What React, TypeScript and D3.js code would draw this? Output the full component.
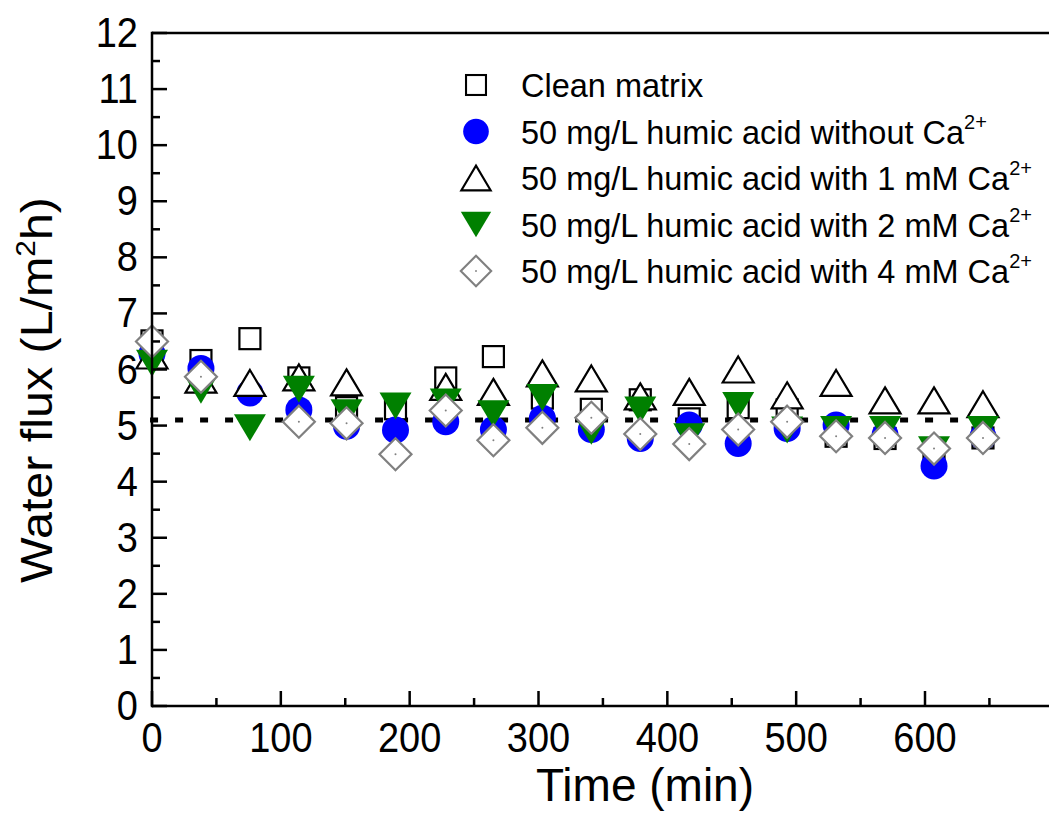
import * as d3 from "d3";
import { useEffect, useRef } from "react";

// sampling times (min)
const times = [0, 38, 76, 114, 151, 189, 228, 265, 303, 341, 379, 417, 455, 493, 531, 569, 607, 645];

// water flux (L/m2h), null = no point
const cleanMatrix = [6.51, 6.16, 6.55, 5.85, 5.32, 5.3, 5.85, 6.23, 5.49, 5.29, 5.46, 5.12, 5.32, 5.28, 4.81, 4.77, 4.48, 4.78];
const haNoCa = [6.28, 6.02, 5.58, 5.28, 4.99, 4.92, 5.07, 4.93, 5.13, 4.93, 4.77, 5.01, 4.68, 4.95, 5.01, 4.83, 4.28, 4.8];
const haCa1 = [6.25, 5.82, 5.76, 5.86, 5.77, null, 5.69, 5.6, 5.93, 5.84, 5.52, 5.6, 6.0, 5.54, 5.76, 5.45, 5.45, 5.38];
const haCa2 = [6.11, 5.63, 4.96, 5.65, 5.23, 5.35, 5.42, 5.21, 5.5, 4.9, 5.28, 4.8, 5.36, 4.92, 4.93, 4.93, 4.57, 4.93];
const haCa4 = [6.5, 5.87, null, 5.07, 5.04, 4.49, 5.27, 4.74, 4.96, 5.14, 4.85, 4.67, 4.93, 5.07, 4.81, 4.78, 4.59, 4.78];

const baselineFlux = 5.1;

const xTicks = [0, 100, 200, 300, 400, 500, 600];
const yTicks = [0, 1, 2, 3, 4, 5, 6, 7, 8, 9, 10, 11, 12];

const legendLabels = [
  "Clean matrix",
  "50 mg/L humic acid without Ca",
  "50 mg/L humic acid with 1 mM Ca",
  "50 mg/L humic acid with 2 mM Ca",
  "50 mg/L humic acid with 4 mM Ca",
];

const FONT = "'Liberation Sans', Arial, sans-serif";
const W = 1049;
const H = 814;

export default function App() {
  const ref = useRef<SVGSVGElement>(null);

  useEffect(() => {
    const svg = d3.select(ref.current);
    svg.selectAll("*").remove();

    const x = d3.scaleLinear().domain([0, 600]).range([152, 925]);
    const y = d3.scaleLinear().domain([0, 12]).range([706, 33]);

    // symbol drawers
    const drawSquare = (g, cx, cy) => {
      g.append("rect").attr("x", cx - 10.5).attr("y", cy - 10.5).attr("width", 21).attr("height", 21)
        .attr("fill", "white").attr("stroke", "black").attr("stroke-width", 2.2);
    };
    const drawCircle = (g, cx, cy) => {
      g.append("circle").attr("cx", cx).attr("cy", cy).attr("r", 13.5).attr("fill", "#0000ff");
    };
    const drawUp = (g, cx, cy) => {
      g.append("path").attr("d", `M${cx},${cy - 13}L${cx + 15.5},${cy + 13}L${cx - 15.5},${cy + 13}Z`)
        .attr("fill", "white").attr("stroke", "black").attr("stroke-width", 2.2);
    };
    const drawDown = (g, cx, cy) => {
      g.append("path").attr("d", `M${cx - 16},${cy - 13.5}L${cx + 16},${cy - 13.5}L${cx},${cy + 13.5}Z`)
        .attr("fill", "#008000");
    };
    const drawDiamond = (g, cx, cy) => {
      g.append("path").attr("d", `M${cx},${cy - 16}L${cx + 16},${cy}L${cx},${cy + 16}L${cx - 16},${cy}Z`)
        .attr("fill", "white").attr("stroke", "#808080").attr("stroke-width", 2.2);
      g.append("circle").attr("cx", cx).attr("cy", cy).attr("r", 1).attr("fill", "#808080");
    };

    const seriesList = [
      { values: cleanMatrix, draw: drawSquare },
      { values: haNoCa, draw: drawCircle },
      { values: haCa1, draw: drawUp },
      { values: haCa2, draw: drawDown },
      { values: haCa4, draw: drawDiamond },
    ];

    // dotted reference line
    svg.append("line")
      .attr("x1", x(-1.5)).attr("x2", x(651))
      .attr("y1", y(baselineFlux)).attr("y2", y(baselineFlux))
      .attr("stroke", "black").attr("stroke-width", 5).attr("stroke-dasharray", "8,17");

    seriesList.forEach(s => {
      const g = svg.append("g");
      s.values.forEach((v, i) => {
        if (v == null) return;
        s.draw(g, x(times[i]), y(v));
      });
    });

    // axes
    const axis = svg.append("g").attr("stroke", "black").attr("stroke-width", 2.5);
    axis.append("line").attr("x1", x(0)).attr("x2", W).attr("y1", y(0)).attr("y2", y(0));
    axis.append("line").attr("x1", x(0)).attr("x2", W).attr("y1", y(12)).attr("y2", y(12));
    axis.append("line").attr("x1", x(0)).attr("x2", x(0)).attr("y1", y(0) + 1.25).attr("y2", y(12) - 1.25);

    d3.range(0, 701, 50).forEach(t => {
      const major = t % 100 === 0;
      axis.append("line").attr("x1", x(t)).attr("x2", x(t))
        .attr("y1", y(0)).attr("y2", y(0) - (major ? 15 : 8));
    });
    d3.range(0, 12.01, 0.5).forEach(v => {
      const major = Math.abs(v - Math.round(v)) < 1e-6;
      axis.append("line").attr("x1", x(0)).attr("x2", x(0) + (major ? 15 : 8))
        .attr("y1", y(v)).attr("y2", y(v));
    });

    // tick labels
    svg.append("g").selectAll("text").data(xTicks).join("text")
      .attr("transform", d => `translate(${x(d)},${y(0) + 46}) scale(1,1.1)`)
      .attr("text-anchor", "middle")
      .attr("font-family", FONT).attr("font-size", 38)
      .text(d => d);

    svg.append("g").selectAll("text").data(yTicks).join("text")
      .attr("transform", d => `translate(138,${y(d) + 14}) scale(1,1.1)`)
      .attr("text-anchor", "end")
      .attr("font-family", FONT).attr("font-size", 38)
      .text(d => d);

    // axis titles
    svg.append("text")
      .attr("transform", `translate(645,801)`)
      .attr("text-anchor", "middle")
      .attr("font-family", FONT).attr("font-size", 46)
      .text("Time (min)");

    const yt = svg.append("text")
      .attr("transform", `translate(52,390) scale(1,1.1) rotate(-90)`)
      .attr("text-anchor", "middle")
      .attr("font-family", FONT).attr("font-size", 44);
    yt.append("tspan").text("Water flux (L/m");
    yt.append("tspan").attr("font-size", 27).attr("dy", -17).text("2");
    yt.append("tspan").attr("dy", 17).text("h)");

    // legend
    const legendDraw = [drawSquare, drawCircle, drawUp, drawDown, drawDiamond];
    legendLabels.forEach((lab, i) => {
      const cy = 85 + i * 46.5;
      const g = svg.append("g").attr("transform", `translate(476,${cy}) scale(0.95)`);
      legendDraw[i](g, 0, 0);
      const t = svg.append("text")
        .attr("transform", `translate(521,${cy + 12}) scale(1,1.05)`)
        .attr("font-family", FONT).attr("font-size", 32.5);
      t.append("tspan").text(lab);
      if (i > 0) {
        t.append("tspan").attr("font-size", 20).attr("dy", -14).text("2+");
      }
    });
  }, []);

  return (
    <svg ref={ref} width={W} height={H} viewBox={`0 0 ${W} ${H}`}
      style={{ position: "absolute", left: 0, top: 0, background: "white" }} />
  );
}
